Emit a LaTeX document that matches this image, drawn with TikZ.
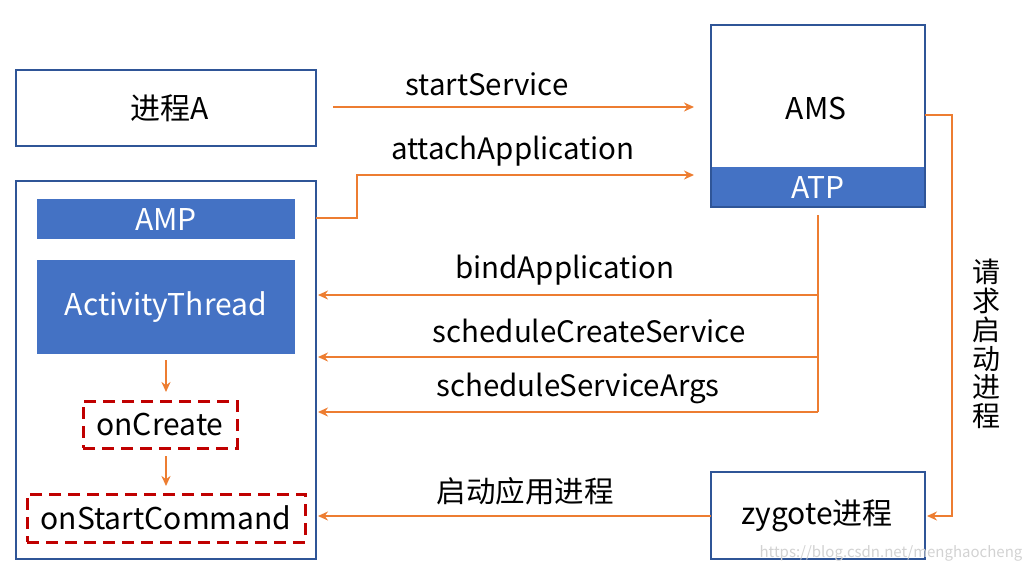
\documentclass[tikz,border=0pt]{standalone}
\usepackage{fontspec}
\setmainfont{Noto Sans CJK SC}
\usetikzlibrary{arrows.meta}
\definecolor{bord}{HTML}{2F5597}
\definecolor{bfill}{HTML}{4472C4}
\definecolor{orng}{HTML}{ED7D31}
\definecolor{dred}{HTML}{C00000}
\tikzset{
  box/.style={draw=bord, line width=2pt, fill=white},
  bluebar/.style={fill=bfill, draw=none, text=white},
  dbox/.style={draw=dred, line width=3pt, dash pattern=on 12pt off 7pt},
  con/.style={draw=orng, line width=2pt},
  arr/.style={con, -{Stealth[length=10pt,width=9pt]}},
  big/.style={font=\fontsize{30}{34}\selectfont},
  lab/.style={font=\fontsize{29.5}{34}\selectfont, text=black},
}
\begin{document}
\begin{tikzpicture}[x=1pt,y=-1pt]
\useasboundingbox (0,0) rectangle (1028,574);
% boxes
\draw[box] (16,70) rectangle (316,146);
\node[big] (pa) at (170,108) {进程A};
\coordinate (paE) at (316,107);
\draw[box] (16,181) rectangle (316,559);
\coordinate (lbTop) at (316,218);
\draw[box] (711,25) rectangle (925,207);
\node[bluebar, minimum width=214pt, minimum height=40pt, inner sep=0pt, big] (atp) at (818,187) {ATP};
\node[big] (ams) at (816,108) {AMS};
\draw[box, fill=none] (711,25) rectangle (925,207);
\draw[box] (711,472) rectangle (925,559);
\node[big] (zy) at (817,516) {zygote进程};
% blue bars
\node[bluebar, minimum width=258pt, minimum height=40pt, inner sep=0pt, big] (amp) at (166,219) {AMP};
\node[bluebar, minimum width=258pt, minimum height=94pt, inner sep=0pt, big] (at) at (166,307) {ActivityThread};
% dashed
\node[dbox, minimum width=154pt, minimum height=47pt, inner sep=0pt, big] (oc) at (160,424.5) {onCreate};
\node[dbox, minimum width=278pt, minimum height=48pt, inner sep=0pt, big] (osc) at (166,518) {onStartCommand};
% internal arrows
\draw[arr] (166,360) -- (166,392);
\draw[arr] (166,456) -- (166,486);
% startService
\coordinate (ss0) at (333,107);
\coordinate (ss1) at (694,107);
\draw[arr] (ss0) -- (ss1);
\node[lab] at (487,84) {startService};
% attachApplication
\draw[arr] (lbTop) -- (357,218) -- (357,175) -- (694,175);
\node[lab] at (513,151) {attachApplication};
% bind etc
\coordinate (atpB) at (818,215);
\draw[con] (atpB) -- (818,412);
\draw[arr] (818,295) -- (318,295);
\draw[arr] (818,357) -- (318,357);
\draw[arr] (818,412) -- (318,412);
\node[lab] at (565,270) {bindApplication};
\node[lab] at (589,331) {scheduleCreateService};
\node[lab] at (578,388) {scheduleServiceArgs};
% request
\draw[arr] (925,115) -- (952,115) -- (952,516) -- (927,516);
\node[font=\fontsize{28}{28.7}\selectfont, align=center, inner sep=0pt] (req) at (986,344) {请\\求\\启\\动\\进\\程};
% zygote -> left
\draw[arr] (711,516) -- (318,516);
\node[lab] at (525,491) {启动应用进程};
% watermark
\node[font=\fontsize{15}{18}\selectfont, text=gray!35, inner sep=0pt] at (891,553) {https://blog.csdn.net/menghaocheng};
\end{tikzpicture}
\end{document}
